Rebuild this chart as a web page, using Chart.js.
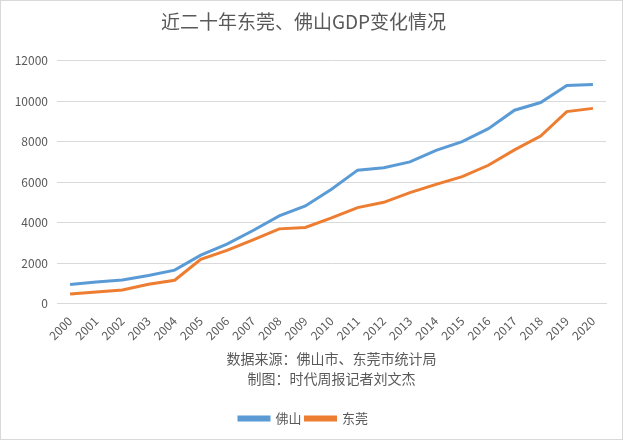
<!DOCTYPE html>
<html>
<head>
<meta charset="utf-8">
<script src="https://cdn.jsdelivr.net/npm/chart.js@4/dist/chart.umd.min.js"></script>
<style>
  body { margin: 0; background: #fff; }
  #wrap { width: 621px; height: 438px; border: 1px solid #d9d9d9; }
</style>
</head>
<body>
<div id="wrap"><canvas id="gdp" width="621" height="438"></canvas></div>
<script>
const years = ["2000","2001","2002","2003","2004","2005","2006","2007","2008","2009","2010",
  "2011","2012","2013","2014","2015","2016","2017","2018","2019","2020"];
// GDP, 亿元
const foshan = [950, 1070, 1180, 1400, 1660, 2400, 2950, 3620, 4340, 4830, 5660,
  6600, 6720, 7010, 7580, 8010, 8650, 9560, 9940, 10780, 10830];
const dongguan = [480, 580, 680, 960, 1160, 2200, 2640, 3160, 3700, 3770, 4240,
  4750, 5010, 5490, 5900, 6280, 6840, 7600, 8280, 9490, 9650];
const yTicks = [0, 2000, 4000, 6000, 8000, 10000, 12000];

const grey = "#595959";
const cjk = "'Noto Sans CJK SC', 'Noto Sans', sans-serif";

new Chart(document.getElementById("gdp"), {
  type: "line",
  data: {
    labels: years,
    datasets: [
      { label: "佛山", data: foshan, borderColor: "#5b9bd5", backgroundColor: "#5b9bd5",
        borderWidth: 3, pointRadius: 0, tension: 0 },
      { label: "东莞", data: dongguan, borderColor: "#ed7d31", backgroundColor: "#ed7d31",
        borderWidth: 3, pointRadius: 0, tension: 0 }
    ]
  },
  options: {
    responsive: false,
    animation: false,
    layout: { padding: { left: 0, right: 16, top: 0, bottom: 4 } },
    plugins: {
      title: {
        display: true,
        text: "近二十年东莞、佛山GDP变化情况",
        color: grey,
        font: { family: cjk, size: 19, weight: "normal" },
        padding: { top: 9, bottom: 28 }
      },
      legend: {
        position: "bottom",
        labels: {
          color: grey,
          font: { family: cjk, size: 13 },
          boxWidth: 30,
          boxHeight: 3,
          padding: 4
        }
      },
      tooltip: { enabled: false }
    },
    scales: {
      x: {
        offset: true,
        grid: { display: false },
        border: { color: "#d9d9d9" },
        ticks: { color: grey, font: { family: cjk, size: 12 }, minRotation: 45, maxRotation: 45, padding: 2 },
        title: {
          display: true,
          text: ["数据来源：佛山市、东莞市统计局", "制图：时代周报记者刘文杰"],
          color: grey,
          font: { family: cjk, size: 14, lineHeight: 1.4 },
          padding: { top: 4, bottom: 20 }
        }
      },
      y: {
        min: 0,
        max: 12000,
        afterBuildTicks: (s) => { s.ticks = yTicks.map(v => ({ value: v })); },
        afterFit: (s) => { s.width = 56; },
        grid: { color: "#d9d9d9", drawTicks: false },
        border: { display: false },
        ticks: { color: grey, font: { family: cjk, size: 12 }, padding: 9, callback: (v) => String(v) }
      }
    }
  }
});
</script>
</body>
</html>
